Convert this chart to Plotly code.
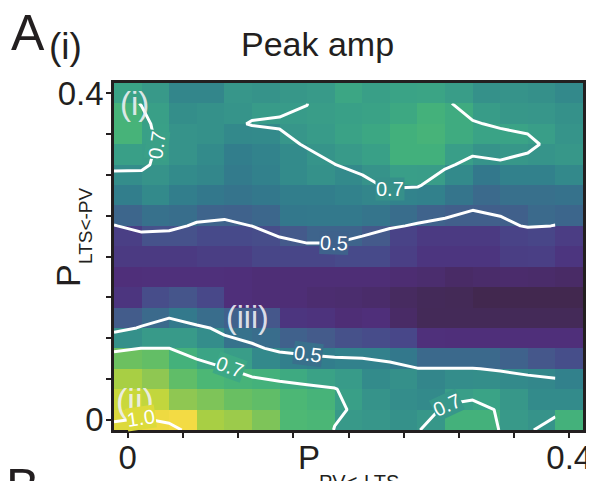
import plotly.graph_objects as go

# ---------------- data ----------------
p_pv_lts = [round(0.025 * k, 4) for k in range(17)]   # x: P_PV<-LTS
p_lts_pv = [round(0.025 * k, 4) for k in range(17)]   # y: P_LTS<-PV

# peak amplitude, rows from P_LTS<-PV = 0 (bottom) to 0.4 (top)
peak_amp = [
    [1.01, 1.035, 1.05, 0.94, 0.92, 0.885, 0.82, 0.81, 0.695, 0.685, 0.67, 0.69, 0.79, 0.79, 0.695, 0.675, 0.79],
    [0.985, 0.975, 0.90, 0.885, 0.865, 0.85, 0.815, 0.80, 0.72, 0.675, 0.655, 0.645, 0.715, 0.735, 0.69, 0.65, 0.65],
    [0.94, 0.90, 0.85, 0.815, 0.80, 0.79, 0.76, 0.73, 0.705, 0.65, 0.665, 0.63, 0.655, 0.66, 0.645, 0.635, 0.61],
    [0.87, 0.855, 0.79, 0.74, 0.71, 0.64, 0.605, 0.595, 0.61, 0.61, 0.56, 0.507, 0.507, 0.507, 0.482, 0.439, 0.406],
    [0.665, 0.701, 0.701, 0.655, 0.54, 0.52, 0.477, 0.453, 0.417, 0.398, 0.378, 0.275, 0.27, 0.27, 0.27, 0.27, 0.27],
    [0.456, 0.51, 0.565, 0.52, 0.478, 0.44, 0.30, 0.29, 0.265, 0.27, 0.245, 0.22, 0.22, 0.22, 0.22, 0.22, 0.22],
    [0.30, 0.40, 0.43, 0.38, 0.27, 0.265, 0.265, 0.258, 0.255, 0.25, 0.235, 0.222, 0.218, 0.20, 0.20, 0.20, 0.20],
    [0.27, 0.275, 0.275, 0.275, 0.27, 0.265, 0.265, 0.265, 0.265, 0.265, 0.26, 0.255, 0.245, 0.25, 0.252, 0.25, 0.245],
    [0.32, 0.32, 0.32, 0.335, 0.335, 0.37, 0.37, 0.37, 0.39, 0.39, 0.34, 0.30, 0.30, 0.30, 0.335, 0.34, 0.30],
    [0.34, 0.42, 0.42, 0.39, 0.39, 0.40, 0.45, 0.488, 0.488, 0.45, 0.36, 0.32, 0.32, 0.32, 0.36, 0.37, 0.33],
    [0.495, 0.535, 0.525, 0.487, 0.479, 0.501, 0.56, 0.565, 0.565, 0.55, 0.52, 0.484, 0.47, 0.468, 0.473, 0.51, 0.498],
    [0.60, 0.645, 0.60, 0.56, 0.545, 0.56, 0.60, 0.60, 0.615, 0.63, 0.62, 0.61, 0.55, 0.51, 0.53, 0.53, 0.54],
    [0.655, 0.675, 0.65, 0.635, 0.58, 0.61, 0.65, 0.67, 0.645, 0.675, 0.715, 0.71, 0.645, 0.56, 0.61, 0.61, 0.64],
    [0.72, 0.71, 0.677, 0.65, 0.60, 0.62, 0.65, 0.68, 0.699, 0.725, 0.785, 0.785, 0.715, 0.675, 0.69, 0.68, 0.69],
    [0.80, 0.725, 0.675, 0.67, 0.64, 0.645, 0.685, 0.705, 0.73, 0.75, 0.785, 0.80, 0.765, 0.735, 0.735, 0.715, 0.68],
    [0.80, 0.72, 0.66, 0.67, 0.68, 0.705, 0.705, 0.71, 0.725, 0.73, 0.755, 0.79, 0.765, 0.706, 0.69, 0.685, 0.67],
    [0.735, 0.697, 0.63, 0.63, 0.685, 0.675, 0.69, 0.699, 0.745, 0.72, 0.735, 0.74, 0.71, 0.67, 0.675, 0.665, 0.64],
]

contour_levels = [0.5, 0.7, 1.0]
contour_label_text = ["0.7", "0.5", "0.7", "0.5", "0.7", "0.7", "1.0"]

tick_vals = [round(0.05 * k, 3) for k in range(9)]
tick_text = ["0", "", "", "", "", "", "", "", "0.4"]

# ---------------- style ----------------
ZMIN, ZMAX = 0.2, 1.06
cmap_pts = [
    (0.20, "#42284f"), (0.22, "#442a58"), (0.245, "#492b66"), (0.27, "#4f2f7a"),
    (0.30, "#4c357f"), (0.34, "#4a3f85"), (0.39, "#474a8a"), (0.45, "#445a8b"),
    (0.50, "#3c678c"), (0.56, "#33788c"), (0.60, "#327e8c"), (0.645, "#338a8b"),
    (0.70, "#389a89"), (0.735, "#3aa386"), (0.785, "#42b07c"), (0.82, "#4eb874"),
    (0.87, "#6cc060"), (0.90, "#8fc752"), (0.94, "#a8cf44"), (0.99, "#cdd93a"),
    (1.03, "#ecd940"), (1.06, "#f6dc46"),
]
colorscale = [[(v - ZMIN) / (ZMAX - ZMIN), c] for v, c in cmap_pts]

# page body has an 8px margin, so lay the figure out in window pixels minus 8
OFF = 8
W, H = 594, 481
PL, PR, PT, PB = 114, 583, 83, 430          # plot box in window pixels
L = PL - OFF
T = PT - OFF
R = W - (PR - OFF)
B = H - (PB - OFF)
PW, PH = PR - PL, PB - PT
FONT = "Liberation Sans, Arial, Helvetica, sans-serif"
INK = "#231f20"

def px(xw):
    return (xw - PL) / PW

def py(yw):
    return (PB - yw) / PH

half = 0.0125
cont_x = [v - half for v in p_pv_lts]
cont_y = [v - half for v in p_lts_pv]

fig = go.Figure()
fig.add_trace(go.Heatmap(
    x=p_pv_lts, y=p_lts_pv, z=peak_amp,
    colorscale=colorscale, zmin=ZMIN, zmax=ZMAX, showscale=False,
    hoverinfo="skip",
))
for lev in contour_levels:
    fig.add_trace(go.Contour(
        x=cont_x, y=cont_y, z=peak_amp,
        contours=dict(start=lev, end=lev + 0.4, size=0.5,
                      coloring="none", showlabels=False),
        line=dict(color="white", width=3, smoothing=0),
        showscale=False, hoverinfo="skip",
    ))

axis_common = dict(
    range=[-half, 0.4 + half], tickvals=tick_vals, ticktext=tick_text,
    ticks="outside", ticklen=5, tickwidth=1.5, tickcolor=INK,
    showline=True, linecolor=INK, linewidth=2.5, mirror=True,
    showgrid=False, zeroline=False, automargin=False,
    tickfont=dict(size=33, color=INK, family=FONT),
)
fig.update_xaxes(**axis_common, ticklabelstandoff=-8)
fig.update_yaxes(**axis_common, ticklabelstandoff=-4)

ann = []
def text(t, x, y, size, color=INK, angle=0, bg=None, pad=1):
    d = dict(text=t, x=px(x), y=py(y), xref="paper", yref="paper",
             showarrow=False, textangle=angle, xanchor="center", yanchor="middle",
             font=dict(size=size, color=color, family=FONT), borderpad=pad)
    if bg:
        d["bgcolor"] = bg
    ann.append(d)

text("Peak amp", 317, 44, 34)
text("A", 28, 33, 50)
text("(i)", 65, 47, 37)
text("P", 68, 276, 34, angle=-90)
text("LTS&lt;-PV", 85, 226, 19, angle=-90)
text("P", 308.5, 457, 33)
text("PV&lt;-LTS", 359, 482, 20)
text("B", 22, 487, 50)
lab = "rgba(240,240,245,0.9)"
text("(i)", 134, 104, 33, color=lab)
text("(ii)", 135, 400, 34, color=lab)
text("(iii)", 247, 317, 32, color=lab)

# inline contour labels (gap in the line filled with the local cell colour)
label_spots = [
    (157, 145, -82, "#3aa087"),
    (334, 243, 2, "#3f628c"),
    (390, 189, 0, "#36908a"),
    (308, 354, 7, "#39708c"),
    (230, 367, 20, "#3da885"),
    (447, 405, -25, "#37978a"),
    (141, 418, -8, "#dcdb3a"),
]
for t, (x, y, a, bg) in zip(contour_label_text, label_spots):
    text(t, x, y, 20, color="white", angle=a, bg=bg, pad=0)

fig.update_layout(
    width=W, height=H, margin=dict(l=L, r=R, t=T, b=B, pad=0, autoexpand=False),
    paper_bgcolor="white", plot_bgcolor="white", showlegend=False,
    annotations=ann, font=dict(family=FONT, color=INK),
)
fig.write_html("out.html")
